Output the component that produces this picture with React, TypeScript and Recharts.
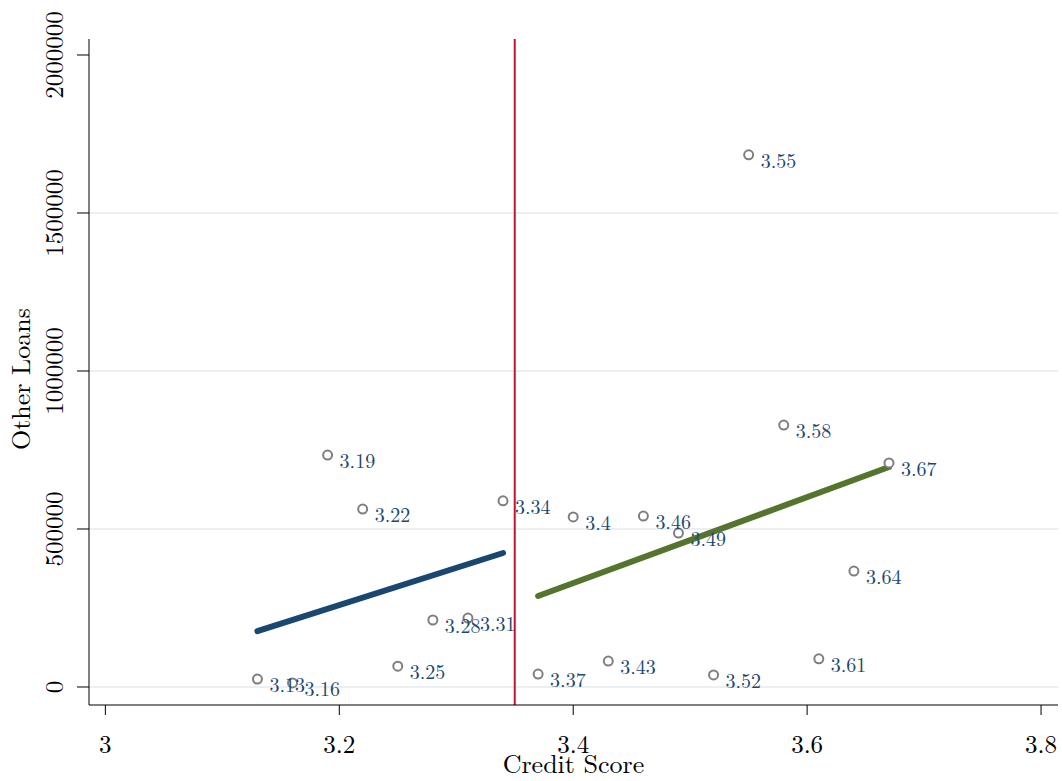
import React from 'react';
import {
  ScatterChart, Scatter, XAxis, YAxis, ReferenceLine, LabelList, Label,
} from 'recharts';

const scores = [3.13, 3.16, 3.19, 3.22, 3.25, 3.28, 3.31, 3.34, 3.37, 3.4, 3.43, 3.46, 3.49, 3.52, 3.55, 3.58, 3.61, 3.64, 3.67];
const loans = [25000, 13000, 734000, 563000, 66000, 212000, 218000, 589000, 41000, 538000, 82000, 541000, 487000, 38000, 1684000, 829000, 89000, 367000, 709000];

const leftFitX = [3.13, 3.34];
const leftFitY = [177000, 424000];
const rightFitX = [3.37, 3.67];
const rightFitY = [288000, 696000];

const xTicks = [3, 3.2, 3.4, 3.6, 3.8];
const yTicks = [0, 500000, 1000000, 1500000, 2000000];
const gridLevels = [0, 500000, 1000000, 1500000];
const cutoff = 3.35;

const points = scores.map((s, i) => ({ x: s, y: loans[i], label: String(s) }));
const leftFit = leftFitX.map((x, i) => ({ x, y: leftFitY[i] }));
const rightFit = rightFitX.map((x, i) => ({ x, y: rightFitY[i] }));

const FONT = '"Latin Modern Roman", "CMU Serif", "DejaVu Serif", serif';
const NAVY = '#1a476f';

const Hollow = (props: any) => {
  const { cx, cy } = props;
  if (cx == null || cy == null) return null;
  return <circle cx={cx} cy={cy} r={4.5} fill="#fff" stroke="#7f7f7f" strokeWidth={2} />;
};

const PointLabel = (props: any) => {
  const { x, y, width, height, value } = props;
  const cx = x + width / 2;
  const cy = y + height / 2;
  return (
    <text x={cx + 12} y={cy + 13} fill={NAVY} fontFamily={FONT} fontSize={20}>
      {value}
    </text>
  );
};

// baseline of the rotated labels sits at x = 63
const YTick = ({ y, payload }: any) => (
  <text
    x={63}
    y={y}
    transform={`rotate(-90, 63, ${y})`}
    textAnchor="middle"
    fill="#000"
    fontFamily={FONT}
    fontSize={25}
  >
    {payload.value}
  </text>
);

const XTick = ({ x, payload }: any) => (
  <text x={x} y={753} textAnchor="middle" fill="#000" fontFamily={FONT} fontSize={25}>
    {String(payload.value)}
  </text>
);

const XTitle = ({ viewBox }: any) => (
  <text x={viewBox.x + viewBox.width / 2} y={773} textAnchor="middle" fill="#000" fontFamily={FONT} fontSize={26}>
    Credit Score
  </text>
);

const YTitle = ({ viewBox }: any) => {
  const cy = viewBox.y + viewBox.height / 2 + 7;
  return (
    <text x={30} y={cy} transform={`rotate(-90, 30, ${cy})`} textAnchor="middle" fill="#000" fontFamily={FONT} fontSize={26}>
      Other Loans
    </text>
  );
};

export default function App() {
  return (
    <div style={{ position: 'absolute', left: 0, top: 0, background: '#fff' }}>
      <ScatterChart width={1062} height={781} margin={{ top: 39, right: 4, left: 0, bottom: 0 }}>
        {gridLevels.map((g) => (
          <ReferenceLine key={g} y={g} stroke="#eaf0f2" strokeWidth={2} />
        ))}
        <XAxis
          type="number"
          dataKey="x"
          domain={[2.986, 3.8145]}
          ticks={xTicks}
          allowDataOverflow
          height={76}
          stroke="#000"
          tickSize={10}
          tick={<XTick />}
        >
          <Label content={<XTitle />} />
        </XAxis>
        <YAxis
          type="number"
          dataKey="y"
          domain={[-57000, 2050600]}
          ticks={yTicks}
          allowDataOverflow
          width={89}
          stroke="#000"
          tickSize={12}
          tick={<YTick />}
        >
          <Label content={<YTitle />} />
        </YAxis>
        <ReferenceLine x={cutoff} stroke="#c4122f" strokeWidth={2} />
        <Scatter
          data={leftFit}
          line={{ stroke: NAVY, strokeWidth: 6, strokeLinecap: 'round' }}
          shape={() => null}
          isAnimationActive={false}
        />
        <Scatter
          data={rightFit}
          line={{ stroke: '#55752f', strokeWidth: 6, strokeLinecap: 'round' }}
          shape={() => null}
          isAnimationActive={false}
        />
        <Scatter data={points} shape={<Hollow />} isAnimationActive={false}>
          <LabelList dataKey="label" content={<PointLabel />} />
        </Scatter>
      </ScatterChart>
    </div>
  );
}
